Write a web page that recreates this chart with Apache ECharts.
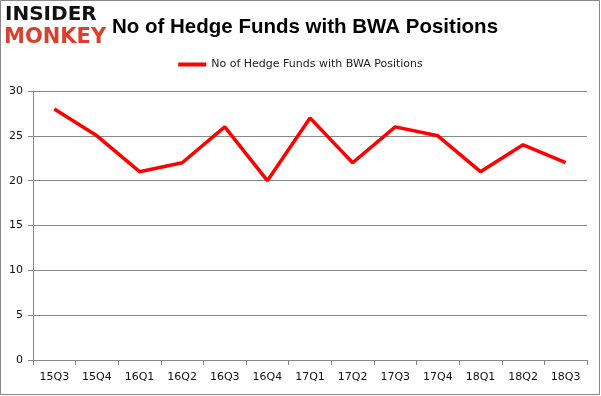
<!DOCTYPE html>
<html><head><meta charset="utf-8">
<script src="https://cdn.jsdelivr.net/npm/echarts@6/dist/echarts.min.js"></script>
<style>html,body{margin:0;padding:0;background:#fff}#c{width:601px;height:396px}</style>
</head><body><div id="c"></div>
<script>
const categories = ['15Q3','15Q4','16Q1','16Q2','16Q3','16Q4','17Q1','17Q2','17Q3','17Q4','18Q1','18Q2','18Q3'];
const values = [28,25,21,22,26,20,27,22,26,25,21,24,22];
const seriesName = 'No of Hedge Funds with BWA Positions';
const titleText = 'No of Hedge Funds with BWA Positions';

const chart = echarts.init(document.getElementById('c'));
chart.setOption({
  animation: false,
  backgroundColor: '#fff',
  title: {
    text: titleText, left: 300, top: 12, textAlign: 'center',
    textStyle: {fontFamily: 'Liberation Sans, Arial', fontSize: 20.5, fontWeight: 'bold', color: '#000'}
  },
  legend: {
    top: 54, left: 'center', itemWidth: 28, itemHeight: 4, icon: 'rect',
    textStyle: {fontFamily: 'DejaVu Sans', fontSize: 11, color: '#222'},
    data: [seriesName]
  },
  grid: {left: 33, right: 14, top: 91, bottom: 36},
  xAxis: {
    type: 'category', data: categories, boundaryGap: true,
    axisLine: {lineStyle: {color: '#888'}},
    axisTick: {show: true, length: 5, alignWithLabel: false, lineStyle: {color: '#888'}},
    axisLabel: {fontFamily: 'DejaVu Sans', fontSize: 11, color: '#111', margin: 12}
  },
  yAxis: {
    type: 'value', min: 0, max: 30, interval: 5,
    axisLine: {show: true, lineStyle: {color: '#888'}},
    axisTick: {show: true, length: 5, lineStyle: {color: '#888'}},
    splitLine: {lineStyle: {color: '#888'}},
    axisLabel: {fontFamily: 'DejaVu Sans', fontSize: 11, color: '#111', margin: 10}
  },
  series: [{
    name: seriesName, type: 'line', data: values,
    symbol: 'none', lineStyle: {color: '#ff0000', width: 3.5}, itemStyle: {color: '#ff0000'}
  }],
  graphic: [
    {type: 'rect', shape: {x: 0.5, y: 0.5, width: 599, height: 394}, style: {fill: 'none', stroke: '#888', lineWidth: 1}, silent: true},
    {type: 'text', left: 5, top: 5, style: {text: 'INSIDER', fontFamily: 'DejaVu Sans', fontWeight: 900, fontSize: 20, fill: '#111'}},
    {type: 'text', left: 4, top: 27, style: {text: 'MONKEY', fontFamily: 'DejaVu Sans', fontWeight: 900, fontSize: 21, fill: '#d9412e'}}
  ]
});
</script></body></html>
